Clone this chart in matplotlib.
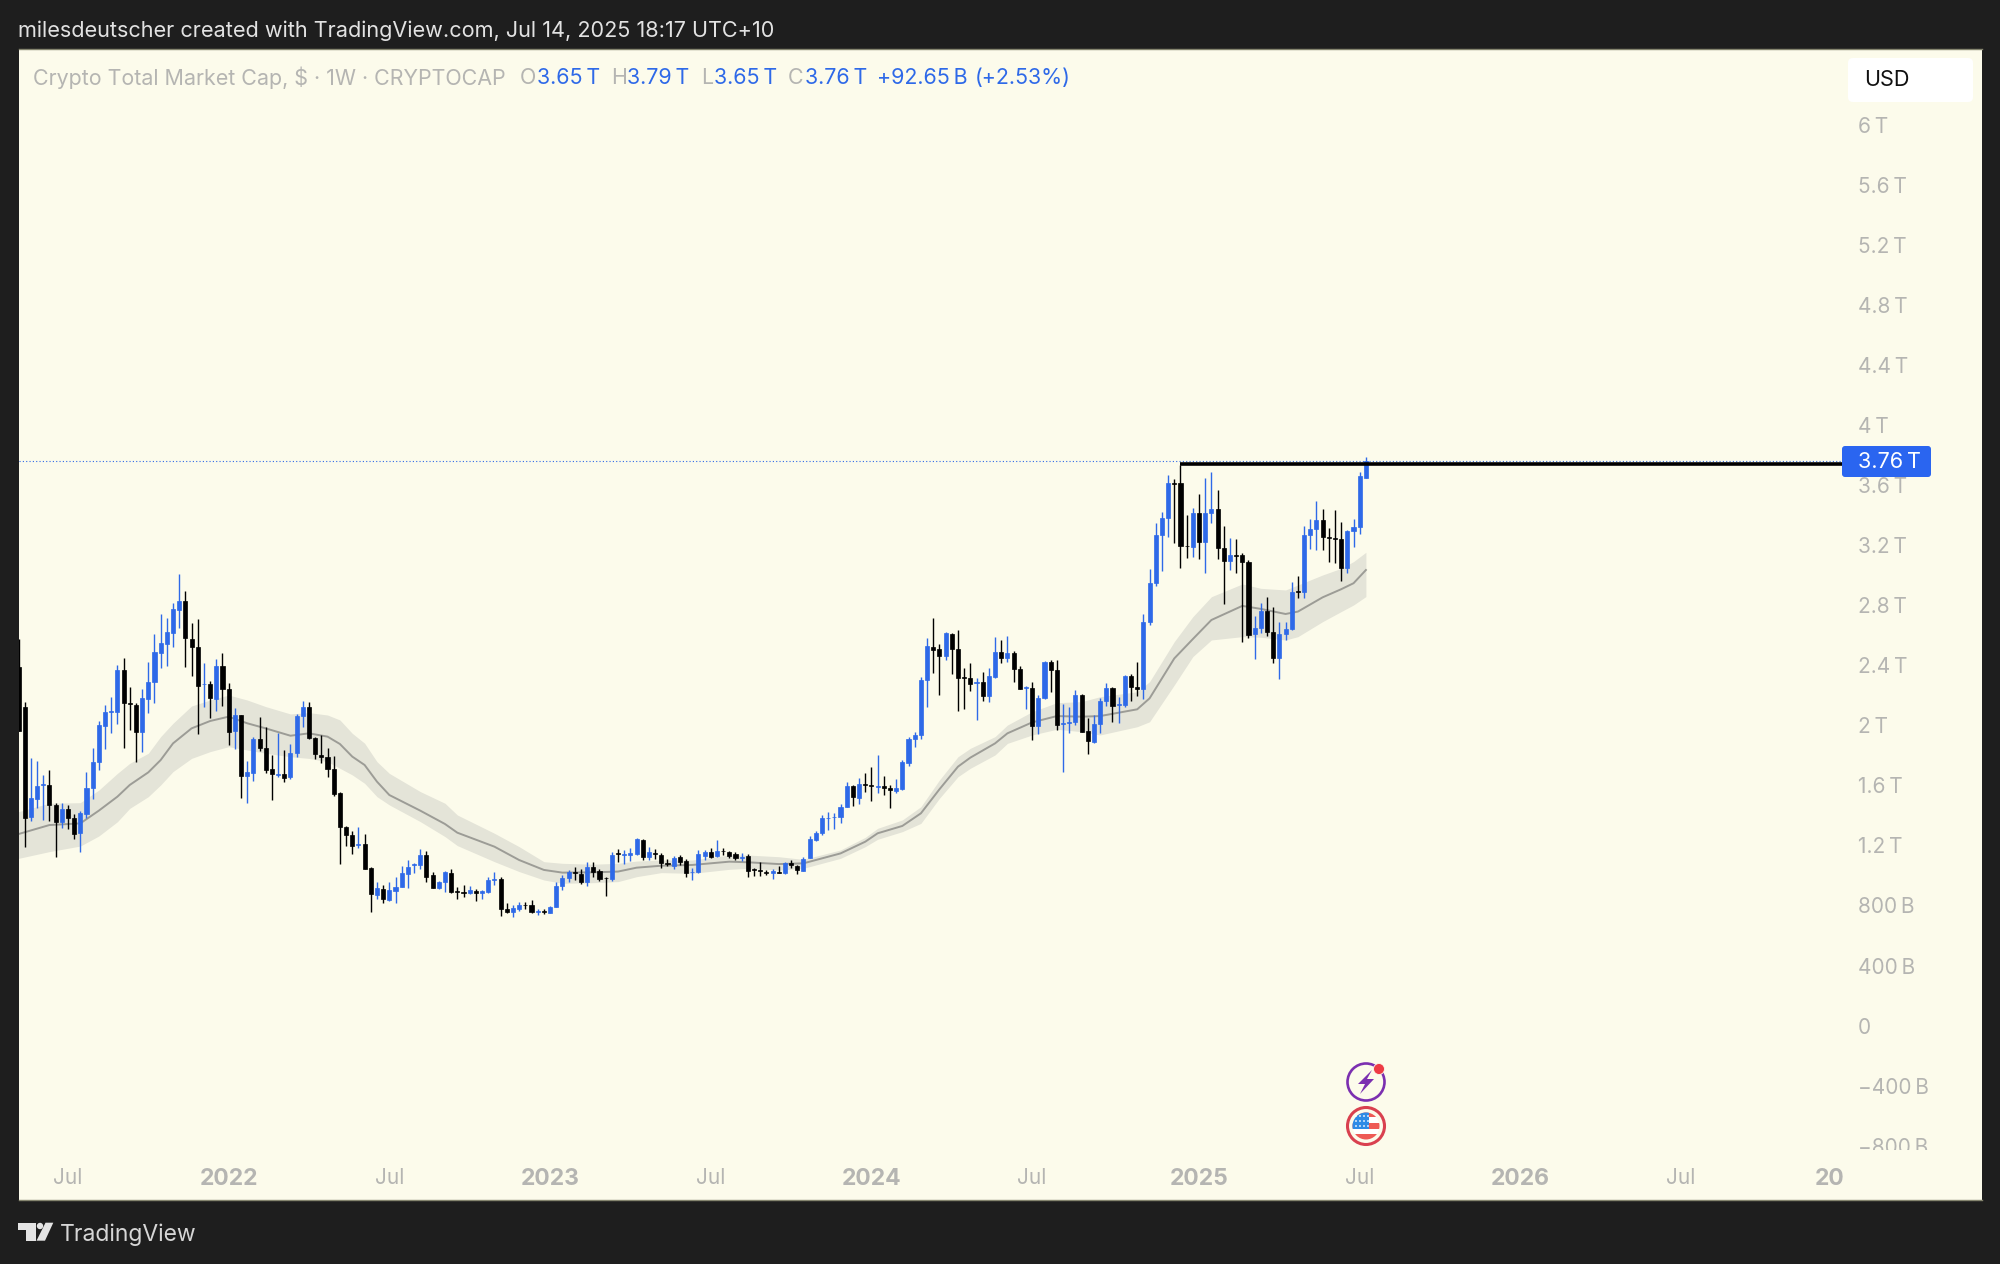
import matplotlib
matplotlib.use("Agg")
import matplotlib.pyplot as plt
import numpy as np
from matplotlib.patches import Circle, FancyBboxPatch, Polygon, Rectangle
from matplotlib.transforms import Bbox, IdentityTransform

# weekly candles, values in trillions of USD
opens = [2.391,2.125,1.392,1.509,1.603,1.603,1.469,1.354,1.443,1.385,
         1.281,1.410,1.585,1.758,1.998,2.089,2.091,2.367,2.149,2.136,
         1.954,2.178,2.291,2.482,2.544,2.618,2.769,2.831,2.575,2.522,
         2.273,2.273,2.176,2.396,2.240,1.960,2.067,1.665,1.685,1.907,
         1.851,1.709,1.667,1.678,1.656,1.814,2.062,2.122,1.918,1.803,
         1.789,1.709,1.548,1.325,1.272,1.203,1.208,1.052,0.870,0.912,
         0.839,0.899,0.923,1.012,1.068,1.070,1.137,1.003,0.915,0.955,
         1.019,0.897,0.888,0.881,0.899,0.881,0.890,0.970,0.977,0.775,
         0.755,0.775,0.806,0.801,0.757,0.761,0.752,0.793,0.930,0.981,
         1.021,1.010,0.957,1.054,1.028,0.986,0.977,1.148,1.137,1.139,
         1.141,1.237,1.121,1.152,1.134,1.086,1.065,1.121,1.099,1.021,
         1.021,1.132,1.159,1.130,1.165,1.156,1.141,1.119,1.130,1.041,
         1.034,1.023,1.019,1.025,1.014,1.083,1.063,1.030,1.116,1.236,
         1.285,1.381,1.387,1.387,1.456,1.596,1.516,1.607,1.600,1.592,
         1.596,1.585,1.565,1.576,1.747,1.909,1.936,2.300,2.525,2.509,
         2.462,2.609,2.507,2.323,2.314,2.285,2.291,2.196,2.323,2.487,
         2.447,2.485,2.376,2.247,2.249,1.996,2.180,2.420,2.367,2.007,
         2.014,2.020,2.205,1.960,1.892,2.009,2.161,2.249,2.136,2.136,
         2.329,2.258,2.243,2.691,2.946,3.271,3.382,3.615,3.613,3.197,
         3.188,3.413,3.224,3.417,3.444,3.180,3.097,3.137,3.133,3.088,
         2.609,2.647,2.760,2.622,2.451,2.611,2.642,2.893,2.886,3.271,
         3.308,3.371,3.257,3.251,3.240,3.051,3.295,3.319,3.65]
closes = [1.965,1.381,1.514,1.598,1.609,1.469,1.354,1.443,1.385,1.276,
          1.414,1.585,1.754,2.000,2.087,2.094,2.367,2.147,2.145,1.956,
          2.180,2.291,2.489,2.547,2.620,2.773,2.831,2.584,2.522,2.265,
          2.278,2.180,2.393,2.240,1.956,2.069,1.665,1.687,1.909,1.847,
          1.703,1.674,1.674,1.652,1.814,2.065,2.122,1.914,1.809,1.787,
          1.709,1.543,1.325,1.270,1.199,1.210,1.046,0.877,0.915,0.843,
          0.901,0.925,1.014,1.057,1.075,1.137,0.992,0.915,0.957,1.021,
          0.888,0.888,0.881,0.903,0.881,0.894,0.968,0.977,0.775,0.759,
          0.784,0.806,0.801,0.759,0.763,0.757,0.788,0.932,0.986,1.023,
          1.014,0.957,1.059,1.021,0.977,0.981,1.134,1.141,1.143,1.148,
          1.241,1.121,1.157,1.143,1.081,1.079,1.119,1.092,1.019,1.025,
          1.141,1.159,1.125,1.165,1.161,1.130,1.114,1.125,1.030,1.036,
          1.028,1.019,1.028,1.019,1.081,1.068,1.036,1.112,1.243,1.285,
          1.381,1.385,1.392,1.458,1.596,1.521,1.607,1.600,1.596,1.598,
          1.585,1.569,1.580,1.754,1.911,1.936,2.303,2.529,2.505,2.465,
          2.618,2.507,2.314,2.318,2.278,2.291,2.196,2.329,2.487,2.451,
          2.482,2.376,2.240,2.254,1.996,2.180,2.425,2.369,2.003,2.014,
          2.020,2.200,1.958,1.896,2.009,2.163,2.249,2.129,2.143,2.331,
          2.258,2.243,2.691,2.951,3.271,3.384,3.613,3.608,3.195,3.193,
          3.413,3.224,3.417,3.442,3.180,3.097,3.133,3.131,3.086,2.602,
          2.647,2.762,2.625,2.451,2.609,2.642,2.891,2.889,3.271,3.308,
          3.371,3.255,3.251,3.240,3.051,3.297,3.319,3.662,3.76]
highs = [2.573,2.154,1.780,1.765,1.669,1.703,1.481,1.481,1.469,1.410,
         1.430,1.692,1.851,2.029,2.136,2.187,2.402,2.451,2.258,2.151,
         2.242,2.424,2.609,2.742,2.713,2.813,3.006,2.897,2.680,2.706,
         2.418,2.298,2.442,2.480,2.280,2.114,2.069,1.765,1.925,2.058,
         1.991,1.803,1.951,1.836,1.876,2.076,2.165,2.156,1.925,1.936,
         1.847,1.798,1.559,1.330,1.299,1.321,1.276,1.059,0.959,0.937,
         0.959,0.992,1.063,1.101,1.086,1.174,1.163,1.021,0.966,1.030,
         1.043,0.921,0.937,0.932,0.908,0.903,0.992,1.021,0.992,0.815,
         0.804,0.826,0.826,0.837,0.775,0.775,0.797,0.959,1.003,1.034,
         1.054,1.043,1.092,1.092,1.043,0.992,1.159,1.174,1.170,1.181,
         1.252,1.243,1.192,1.179,1.148,1.108,1.130,1.139,1.107,1.048,
         1.170,1.170,1.185,1.234,1.181,1.165,1.154,1.147,1.141,1.052,
         1.092,1.036,1.043,1.065,1.090,1.103,1.070,1.125,1.263,1.298,
         1.403,1.423,1.418,1.474,1.625,1.603,1.647,1.680,1.720,1.803,
         1.663,1.600,1.643,1.769,1.925,1.956,2.320,2.580,2.713,2.540,
         2.625,2.618,2.636,2.380,2.414,2.314,2.354,2.380,2.591,2.569,
         2.596,2.498,2.398,2.263,2.291,2.203,2.431,2.436,2.436,2.140,
         2.120,2.236,2.209,2.047,2.069,2.183,2.285,2.254,2.187,2.338,
         2.343,2.420,2.742,3.040,3.351,3.419,3.668,3.639,3.735,3.402,
         3.446,3.539,3.650,3.686,3.568,3.328,3.246,3.240,3.146,3.102,
         2.731,2.813,2.853,2.787,2.691,2.691,2.953,2.998,3.331,3.373,
         3.495,3.439,3.313,3.435,3.353,3.302,3.375,3.691,3.79]
lows = [1.965,1.192,1.365,1.447,1.370,1.363,1.121,1.314,1.307,1.243,
        1.154,1.381,1.507,1.703,1.840,1.951,2.009,1.847,1.969,1.758,
        1.823,2.085,2.147,2.384,2.396,2.524,2.651,2.387,2.331,1.943,
        2.125,2.047,2.098,2.131,1.869,1.843,1.518,1.483,1.629,1.831,
        1.685,1.503,1.658,1.620,1.643,1.791,1.987,1.907,1.774,1.752,
        1.654,1.529,1.077,1.199,1.143,1.181,1.046,0.759,0.841,0.815,
        0.832,0.819,0.921,0.919,1.019,1.043,0.957,0.915,0.910,0.892,
        0.886,0.843,0.859,0.875,0.830,0.846,0.881,0.939,0.733,0.748,
        0.726,0.761,0.779,0.750,0.739,0.741,0.748,0.790,0.903,0.959,
        0.970,0.943,0.932,0.988,0.963,0.866,0.961,1.090,1.075,1.099,
        1.137,1.101,1.103,1.112,1.050,1.063,1.043,1.070,0.988,0.970,
        1.016,1.103,1.114,1.125,1.136,1.119,1.103,1.099,0.988,0.996,
        0.996,1.001,0.974,1.016,1.010,1.052,1.010,1.028,1.114,1.227,
        1.272,1.303,1.312,1.352,1.454,1.465,1.476,1.558,1.498,1.552,
        1.536,1.449,1.552,1.569,1.732,1.858,1.907,2.120,2.351,2.203,
        2.436,2.340,2.096,2.109,2.229,2.036,2.163,2.158,2.318,2.418,
        2.420,2.291,2.240,2.109,1.903,1.941,2.178,2.220,1.969,1.687,
        1.952,2.003,1.954,1.812,1.885,1.952,2.132,2.025,2.014,2.125,
        2.165,2.198,2.174,2.669,2.931,3.031,3.257,3.217,3.046,3.113,
        3.120,3.106,3.018,3.346,3.108,2.809,3.035,3.018,2.553,2.580,
        2.440,2.613,2.598,2.414,2.307,2.569,2.636,2.847,2.847,3.173,
        3.169,3.169,3.091,3.084,2.962,3.018,3.191,3.273,3.65]

# moving average and its band, read at a subset of the weeks
ma_weeks = [0,5,10,13,16,18,21,23,25,28,31,34,37,40,44,47,50,52,54,56,58,60,65,
            69,71,77,81,85,88,93,97,100,104,109,115,118,123,127,133,137,139,143,
            146,149,152,154,158,160,164,168,172,175,181,183,187,190,193,198,201,
            205,207,211,214,216,218]
ma_line = [1.276,1.336,1.347,1.432,1.525,1.603,1.687,1.769,1.880,1.980,2.029,2.058,
           2.014,1.980,1.931,1.947,1.925,1.876,1.792,1.736,1.625,1.536,1.432,1.343,
           1.285,1.192,1.103,1.037,1.019,1.021,1.026,1.052,1.065,1.070,1.092,1.088,
           1.076,1.081,1.147,1.225,1.281,1.330,1.414,1.574,1.725,1.785,1.880,1.947,
           2.020,2.062,2.058,2.062,2.107,2.180,2.446,2.575,2.702,2.796,2.776,2.742,
           2.758,2.853,2.907,2.947,3.035]
ma_upper = [1.425,1.481,1.485,1.569,1.680,1.747,1.814,1.925,2.014,2.129,2.169,2.202,
            2.169,2.125,2.076,2.085,2.069,2.036,1.947,1.881,1.758,1.680,1.559,1.481,
            1.403,1.281,1.192,1.092,1.081,1.075,1.081,1.096,1.103,1.103,1.136,1.136,
            1.125,1.107,1.170,1.254,1.314,1.370,1.458,1.636,1.791,1.847,1.925,2.002,
            2.091,2.151,2.158,2.191,2.224,2.291,2.558,2.724,2.857,2.942,2.913,2.902,
            2.935,3.002,3.046,3.091,3.153]
ma_lower = [1.114,1.159,1.196,1.263,1.358,1.447,1.525,1.603,1.692,1.780,1.825,1.858,
            1.836,1.814,1.791,1.780,1.758,1.714,1.670,1.614,1.525,1.470,1.359,1.259,
            1.199,1.092,1.026,0.970,0.948,0.952,0.959,0.992,1.019,1.014,1.041,1.048,
            1.036,1.048,1.114,1.192,1.241,1.292,1.347,1.514,1.658,1.714,1.803,1.880,
            1.936,1.974,1.958,1.936,1.991,2.024,2.269,2.458,2.569,2.591,2.587,2.569,
            2.591,2.691,2.758,2.802,2.858]

y_ticks = [6,5.6,5.2,4.8,4.4,4,3.6,3.2,2.8,2.4,2,1.6,1.2,0.8,0.4,0,-0.4,-0.8]
y_labels = ["6\u2009T","5.6\u2009T","5.2\u2009T","4.8\u2009T","4.4\u2009T","4\u2009T","3.6\u2009T",
            "3.2\u2009T","2.8\u2009T","2.4\u2009T","2\u2009T","1.6\u2009T","1.2\u2009T",
            "800\u2009B","400\u2009B","0","\u2212400\u2009B","\u2212800\u2009B"]
x_ticks = [8,34,60,86,112,138,164,191,217,243,269,293]
x_labels = ["Jul","2022","Jul","2023","Jul","2024","Jul","2025","Jul","2026","Jul","20"]

last_price = 3.76
resistance = 3.74
resistance_start = 188
line_end = 295

BG = "#1E1E1E"
PANEL = "#FCFBEB"
BLUE = "#2E69E8"
GREY = "#B5B5B2"
W, H = 2000, 1264

plt.rcParams["font.family"] = "Inter"

fig = plt.figure(figsize=(20, 12.64), dpi=100, facecolor=BG)
ax = fig.add_axes([18.5 / W, 1 - 1200 / H, 1963 / W, 1151 / H])
ax.set_facecolor(PANEL)
ax.set_xlim(0, 317.6)
ax.set_ylim(-1.162, 6.506)
for side, spine in ax.spines.items():
    spine.set_visible(side in ("top", "bottom"))
    spine.set_color("#85856F")
    spine.set_linewidth(1)

ax.fill_between(ma_weeks, ma_lower, ma_upper, color="#E4E4D8", lw=0, zorder=1)
ax.plot(ma_weeks, ma_line, color="#9C9C96", lw=1.4, zorder=1.5)

weeks = np.arange(len(opens))
opens_a, closes_a = np.array(opens), np.array(closes)
colors = np.where(closes_a >= opens_a, BLUE, "#000000")
ax.vlines(weeks, lows, highs, colors=colors, lw=1.0, zorder=2)
ax.bar(weeks, np.abs(closes_a - opens_a), bottom=np.minimum(opens_a, closes_a), width=0.66,
       color=colors, edgecolor=colors, lw=0.5, zorder=2.1)

ax.hlines(last_price, 0, line_end, color=BLUE, lw=0.8, linestyles=(0, (1, 2)), zorder=2.2)
ax.hlines(resistance, resistance_start, line_end, color="#000000", lw=2.6, zorder=2.3)

ax.set_xticks(x_ticks)
ax.set_xticklabels(x_labels, color=GREY, fontsize=15)
for lab in ax.get_xticklabels():
    if lab.get_text() != "Jul":
        lab.set_fontweight("bold")
        lab.set_fontsize(16.5)
ax.tick_params(axis="x", length=0, pad=-23.2)

ax.yaxis.tick_right()
ax.set_yticks(y_ticks)
ax.set_yticklabels(y_labels, color=GREY, fontsize=15, ha="left")
ax.tick_params(axis="y", length=0, pad=-89)
clip = Bbox([[1800, H - 1150], [1981, H - 50]])
for lab in ax.get_yticklabels():
    lab.set_clip_on(True)
    lab.set_clip_box(clip)

# chrome, placed in pixels
def ftext(x, y, s, **kw):
    fig.text(x / W, 1 - y / H, s, va="center", **kw)

ftext(18, 30.5, "milesdeutscher created with TradingView.com, Jul 14, 2025 18:17 UTC+10",
      color="#E2E2E2", fontsize=15.6)
ftext(33, 78, "Crypto Total Market Cap, $ \u00b7 1W \u00b7 CRYPTOCAP", color=GREY, fontsize=15.45)
for x, s, col in [(520, "O", GREY), (537, "3.65\u2009T", BLUE), (611, "H", GREY), (627, "3.79\u2009T", BLUE),
                  (701, "L", GREY), (714, "3.65\u2009T", BLUE), (788, "C", GREY), (805, "3.76\u2009T", BLUE),
                  (877, "+92.65\u2009B", BLUE), (975, "(+2.53%)", BLUE)]:
    ftext(x, 78, s, color=col, fontsize=15.45)

fig.add_artist(FancyBboxPatch((1851, H - 99), 119, 38, boxstyle="round,pad=3,rounding_size=5",
                              fc="#FFFFFF", ec="none", transform=IdentityTransform()))
ftext(1864, 80, "USD", color="#111111", fontsize=15.6)

fig.add_artist(FancyBboxPatch((1844, H - 475), 85, 27, boxstyle="round,pad=2,rounding_size=3",
                              fc="#2A65F0", ec="none", transform=IdentityTransform()))
ftext(1858, 462.5, "3.76\u2009T", color="#FFFFFF", fontsize=15.6)

# event icons
def add_px(patch):
    patch.set_transform(IdentityTransform())
    fig.add_artist(patch)
    return patch

PURPLE = "#7B2FB0"
RED = "#D9404F"
cx, cy = 1366, H - 1082
add_px(Circle((cx, cy), 18.5, fc=PANEL, ec=PURPLE, lw=1.9))
add_px(Polygon([(cx + 6, cy + 12), (cx - 8, cy - 2), (cx - 1, cy - 2), (cx - 6, cy - 12),
                (cx + 8, cy + 3), (cx + 1, cy + 3)], fc=PURPLE, ec="none"))
add_px(Circle((1379, H - 1069), 5.5, fc="#EE3B45", ec=PANEL, lw=0.6))

fy = H - 1126
add_px(Circle((cx, fy), 18.5, fc=PANEL, ec=RED, lw=2.2))
inner = Circle((cx, fy), 13.5, fc="#FFFFFF", ec="none")
add_px(inner)
for y0, h in [(1112, 5), (1123, 6), (1134, 6.5)]:
    r = add_px(Rectangle((cx - 15, H - y0 - h), 30, h, fc="#EE5A55", ec="none"))
    r.set_clip_path(inner)
canton = add_px(Rectangle((cx - 15, H - 1129), 18, 17, fc="#2E8BE6", ec="none"))
canton.set_clip_path(inner)
for dy in (1116, 1121, 1126):
    for dx in (-10, -6, -2, 2):
        add_px(Circle((cx + dx, H - dy), 0.9, fc="#FFFFFF", ec="none"))

# TradingView logo
LOGO = "#E4E4E4"
add_px(Polygon([(18.3, H - 1222.7), (36, H - 1222.7), (36, H - 1240.7), (26, H - 1240.7),
                (26, H - 1229.5), (18.3, H - 1229.5)], fc=LOGO, ec="none"))
add_px(Circle((40, H - 1226), 3.2, fc=LOGO, ec="none"))
add_px(Polygon([(45.5, H - 1222.7), (53.3, H - 1222.7), (45, H - 1240.7), (36.5, H - 1240.7)],
               fc=LOGO, ec="none"))
ftext(60, 1235, "TradingView", color="#D6D6D6", fontsize=16.5)

fig.savefig("out.png", dpi=100, facecolor=BG)
